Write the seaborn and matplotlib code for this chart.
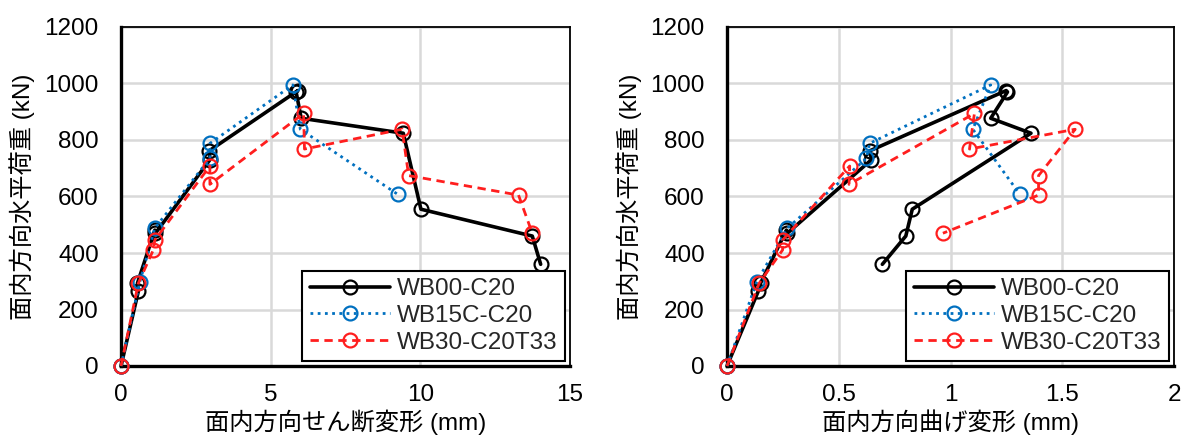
import numpy as np
import pandas as pd
import matplotlib
matplotlib.use("Agg")
import matplotlib.pyplot as plt
import seaborn as sns

# ---- data ----
series_names = ["WB00-C20", "WB15C-C20", "WB30-C20T33"]

wb00_load = [0, 265, 293, 481, 470, 730, 762, 975, 970, 877, 824, 555, 460, 360]
wb00_shear = [0, 0.58, 0.55, 1.13, 1.15, 2.97, 2.95, 5.91, 5.85, 6.02, 9.43, 10.02, 13.74, 14.02]
wb00_bend = [0, 0.14, 0.15, 0.266, 0.27, 0.646, 0.64, 1.249, 1.255, 1.18, 1.36, 0.829, 0.80, 0.695]

wb15_load = [0, 298, 488, 735, 788, 995, 838, 608]
wb15_shear = [0, 0.63, 1.13, 2.97, 2.97, 5.74, 5.99, 9.24]
wb15_bend = [0, 0.133, 0.27, 0.624, 0.638, 1.18, 1.10, 1.31]

wb30_load = [0, 293, 411, 446, 708, 643, 894, 768, 838, 674, 605, 470]
wb30_shear = [0, 0.58, 1.08, 1.13, 2.97, 2.97, 6.10, 6.13, 9.39, 9.61, 13.28, 13.74]
wb30_bend = [0, 0.144, 0.249, 0.249, 0.549, 0.546, 1.107, 1.085, 1.558, 1.394, 1.394, 0.966]

x_label_left = "面内方向せん断変形 (mm)"
x_label_right = "面内方向曲げ変形 (mm)"
y_label = "面内方向水平荷重 (kN)"

# ---- build long table ----
frames = []
for name, ld, sh, bd in zip(series_names,
                            [wb00_load, wb15_load, wb30_load],
                            [wb00_shear, wb15_shear, wb30_shear],
                            [wb00_bend, wb15_bend, wb30_bend]):
    frames.append(pd.DataFrame({"series": name, "load": ld, "shear": sh,
                                "bend": bd, "order": range(len(ld))}))
df = pd.concat(frames, ignore_index=True)

sns.set_theme(style="white")
plt.rcParams["font.family"] = ["Liberation Sans", "Noto Sans CJK JP", "DejaVu Sans"]
FS = 17.5
plt.rcParams["font.size"] = FS

styles = {
    "WB00-C20": dict(color="black", linestyle="-", linewidth=2.6),
    "WB15C-C20": dict(color="#0070C0", linestyle=(0, (1, 1.6)), linewidth=2.0),
    "WB30-C20T33": dict(color="#FF1E1E", linestyle=(0, (3, 2)), linewidth=2.0),
}

fig = plt.figure(figsize=(11.82, 4.37), dpi=100)
ax1 = fig.add_axes([121 / 1182, 1 - 366 / 437, 449 / 1182, 339 / 437])
ax2 = fig.add_axes([727 / 1182, 1 - 366 / 437, 447 / 1182, 339 / 437])

for ax, xcol, xlim, xticks, xlabel in [
    (ax1, "shear", (0, 15), [0, 5, 10, 15], x_label_left),
    (ax2, "bend", (0, 2), [0, 0.5, 1, 1.5, 2], x_label_right),
]:
    for name in series_names:
        sub = df[df["series"] == name]
        st = styles[name]
        sns.lineplot(data=sub, x=xcol, y="load", ax=ax, sort=False, estimator=None,
                     color=st["color"], linestyle=st["linestyle"], linewidth=st["linewidth"],
                     marker="o", markersize=10, markerfacecolor="none",
                     markeredgecolor=st["color"], markeredgewidth=1.6,
                     label=name, clip_on=False, zorder=3)
    ax.set_xlim(*xlim)
    ax.set_ylim(0, 1200)
    ax.set_xticks(xticks)
    ax.set_xticklabels([f"{t:g}" for t in xticks])
    ax.set_yticks(range(0, 1201, 200))
    ax.grid(True, color="#D9D9D9", linewidth=1.8)
    ax.set_axisbelow(True)
    for s in ["top", "right"]:
        ax.spines[s].set_linewidth(1.3)
        ax.spines[s].set_color("black")
    for s in ["left", "bottom"]:
        ax.spines[s].set_linewidth(2.4)
        ax.spines[s].set_color("black")
    ax.tick_params(axis="both", length=0, labelsize=FS, colors="black")
    ax.tick_params(axis="y", pad=16)
    ax.tick_params(axis="x", pad=13)
    ax.set_xlabel(xlabel, fontsize=FS, color="black", va="center")
    ax.set_ylabel(y_label, fontsize=FS, color="black", va="center")
    ax.xaxis.set_label_coords(0.5, -0.167)
    ax.yaxis.set_label_coords(-0.22, 0.5)
    leg = ax.legend(loc="lower right", fontsize=FS, frameon=True, fancybox=False,
                    edgecolor="black", framealpha=1, handlelength=3.3,
                    borderaxespad=0.2, borderpad=0.3, labelspacing=0.2,
                    handletextpad=0.3)
    leg.get_frame().set_linewidth(1.5)

fig.savefig("out.png", dpi=100)
